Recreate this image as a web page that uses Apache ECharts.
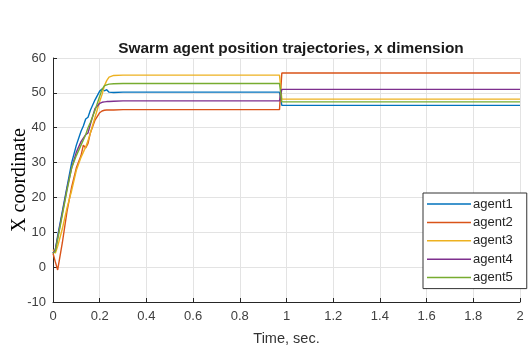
<!DOCTYPE html>
<html>
<head>
<meta charset="utf-8">
<script src="https://cdn.jsdelivr.net/npm/echarts@6/dist/echarts.min.js"></script>
<style>
html,body{margin:0;padding:0;background:#fff;}
#chart{width:531px;height:350px;}
</style>
</head>
<body>
<div id="chart"></div>
<script>
// time samples (sec.)
var timeData = [0, 0.01, 0.02, 0.04, 0.06, 0.08, 0.10, 0.12, 0.13, 0.14, 0.15, 0.16, 0.18, 0.20, 0.21, 0.22, 0.23, 0.24, 0.26, 0.30, 0.97, 0.98, 2.0];
// x coordinate of each agent
var agent1 = [4, 5, 9, 16, 23, 30, 35, 39, 40.5, 42.5, 43, 45, 48, 50.5, 51.1, 50.6, 50.9, 50.2, 50.1, 50.2, 50.2, 46.4, 46.4];
var agent2 = [4, 1.5, -0.8, 7, 16, 23, 28.5, 32, 35, 34.2, 35.5, 38.5, 42.2, 44.3, 44.8, 45, 45.1, 45.1, 45.1, 45.2, 45.2, 55.7, 55.7];
var agent3 = [5, 4, 6, 11, 17, 22, 27.8, 31.5, 33, 34.5, 36.3, 38.5, 43, 47.5, 49.5, 52, 53.5, 54.5, 55, 55.1, 55.1, 48.2, 48.2];
var agent4 = [4, 5, 8.5, 15.5, 22.5, 28.5, 33, 36, 37, 38, 38.5, 41, 45.5, 47, 47.3, 47.4, 47.5, 47.5, 47.6, 47.7, 47.7, 51, 51];
var agent5 = [4, 4.5, 8, 15, 22, 28.5, 32, 35, 36.5, 38, 40, 41.5, 45, 49, 51, 52, 52.3, 52.5, 52.6, 52.7, 52.7, 47.4, 47.4];
var agentNames = ['agent1', 'agent2', 'agent3', 'agent4', 'agent5'];
var agentColors = ['#0072BD', '#D95319', '#EDB120', '#7E2F8E', '#77AC30'];
var xTicks = [0, 0.2, 0.4, 0.6, 0.8, 1, 1.2, 1.4, 1.6, 1.8, 2];
var yTicks = [-10, 0, 10, 20, 30, 40, 50, 60];

//把时间和数值拼成点
function makePoints(values) {
    var pts = [];
    for (var i = 0; i < timeData.length; i++) {
        pts.push([timeData[i], values[i]]);
    }
    return pts;
}

var allAgents = [agent1, agent2, agent3, agent4, agent5];
var seriesList = [];
for (var k = 0; k < allAgents.length; k++) {
    seriesList.push({
        name: agentNames[k],
        type: 'line',
        data: makePoints(allAgents[k]),
        showSymbol: false,
        symbol: 'none',
        smooth: false,
        lineStyle: {color: agentColors[k], width: 1.4},
        itemStyle: {color: agentColors[k]}
    });
}

var fontSans = '"Liberation Sans", Arial, sans-serif';
var chart = echarts.init(document.getElementById('chart'));
chart.setOption({
    animation: false,
    backgroundColor: '#fff',
    title: {
        text: 'Swarm agent position trajectories, x dimension',
        left: 286,
        top: 36,
        textAlign: 'center',
        textStyle: {fontFamily: fontSans, fontSize: 15.4, fontWeight: 'bold', color: '#1a1a1a'}
    },
    legend: {
        orient: 'vertical',
        left: 423,
        top: 193,
        data: agentNames,
        icon: 'rect',
        itemWidth: 44,
        itemHeight: 1.5,
        itemGap: 4.4,
        padding: [4, 14, 4, 4],
        backgroundColor: '#fff',
        borderColor: '#333',
        borderWidth: 1,
        borderRadius: 0,
        textStyle: {fontFamily: fontSans, fontSize: 13, lineHeight: 14, height: 14, color: '#262626', padding: [0, 0, 0, -3]}
    },
    grid: {left: 53, right: 11, top: 58, bottom: 48, outerBoundsMode: 'none', containLabel: false},
    xAxis: {
        type: 'value',
        min: 0,
        max: 2,
        interval: 0.2,
        name: 'Time, sec.',
        nameLocation: 'middle',
        nameGap: 29,
        nameTextStyle: {fontFamily: fontSans, fontSize: 14.5, color: '#333'},
        axisLine: {show: true, onZero: false, lineStyle: {color: '#262626', width: 1}},
        axisTick: {show: true, inside: true, length: 4, lineStyle: {color: '#262626'}},
        axisLabel: {
            fontFamily: fontSans, fontSize: 13, color: '#404040', margin: 8,
            formatter: function (v) {
                var r = Math.round(v * 10) / 10;
                return xTicks.indexOf(r) >= 0 ? String(r) : '';
            }
        },
        splitLine: {show: true, lineStyle: {color: '#e3e3e3', width: 1}}
    },
    yAxis: {
        type: 'value',
        min: -10,
        max: 60,
        interval: 10,
        name: 'X coordinate',
        nameLocation: 'middle',
        nameGap: 23,
        nameMoveOverlap: false,
        nameRotate: 90,
        nameTextStyle: {fontFamily: '"Liberation Serif", "Times New Roman", serif', fontSize: 20, color: '#000'},
        axisLine: {show: true, onZero: false, lineStyle: {color: '#262626', width: 1}},
        axisTick: {show: true, inside: true, length: 4, lineStyle: {color: '#262626'}},
        axisLabel: {
            fontFamily: fontSans, fontSize: 13, color: '#404040', margin: 7,
            formatter: function (v) {
                return yTicks.indexOf(v) >= 0 ? String(v) : '';
            }
        },
        splitLine: {show: true, lineStyle: {color: '#e3e3e3', width: 1}}
    },
    series: seriesList
});
</script>
</body>
</html>
